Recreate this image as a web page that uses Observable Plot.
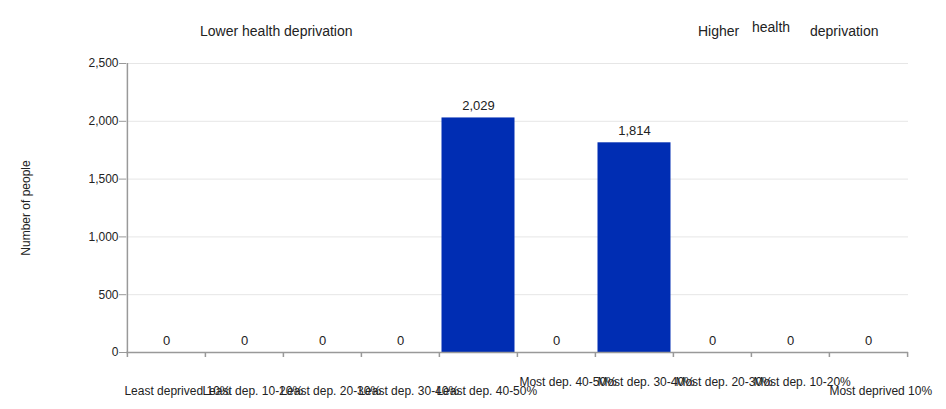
<!DOCTYPE html>
<html>
<head>
<meta charset="utf-8">
<script src="https://cdn.jsdelivr.net/npm/d3@7"></script>
<script src="https://cdn.jsdelivr.net/npm/@observablehq/plot@0.6"></script>
<style>
  html, body { margin: 0; padding: 0; background: #fff; }
  #wrap { position: relative; width: 946px; height: 409px; font-family: "Liberation Sans", Arial, sans-serif; color: #222; }
  .note { position: absolute; font-size: 14px; white-space: nowrap; line-height: 1; }
</style>
</head>
<body>
<div id="wrap">
  <span class="note" style="left:200px; top:24px;">Lower health deprivation</span>
  <span class="note" style="left:698px; top:24px;">Higher</span>
  <span class="note" style="left:752px; top:20px;">health</span>
  <span class="note" style="left:810px; top:24px;">deprivation</span>
</div>
<script>
const categories = ["Least deprived 10%", "Least dep. 10-20%", "Least dep. 20-30%", "Least dep. 30-40%", "Least dep. 40-50%", "Most dep. 40-50%", "Most dep. 30-40%", "Most dep. 20-30%", "Most dep. 10-20%", "Most deprived 10%"];
const values = [0, 0, 0, 0, 2029, 0, 1814, 0, 0, 0];
const yTicks = [0, 500, 1000, 1500, 2000, 2500];
const upperRow = ["Most dep. 40-50%", "Most dep. 30-40%", "Most dep. 20-30%", "Most dep. 10-20%"];
const lastRow = ["Most deprived 10%"];
const lowerRow = categories.filter(c => !upperRow.includes(c) && !lastRow.includes(c));

const data = categories.map((c, i) => ({category: c, value: values[i]}));
const W = 946, H = 409, mL = 126, mR = 38, mT = 63, mB = 57;
const step = (W - mL - mR) / categories.length;
const fmt = d3.format(",");

const chart = Plot.plot({
  width: W, height: H,
  marginLeft: mL, marginRight: mR, marginTop: mT, marginBottom: mB,
  style: {fontFamily: "'Liberation Sans', Arial, sans-serif", fontSize: "12px", color: "#222", background: "transparent"},
  x: {domain: categories, padding: 0, axis: null},
  y: {domain: [0, 2500], axis: null},
  marks: [
    Plot.gridY(yTicks.filter(t => t > 0), {stroke: "#e6e6e6", strokeOpacity: 1}),
    Plot.barY(data, {x: "category", y: "value", fill: "#002db3", insetLeft: 2.5, insetRight: 2.5}),
    Plot.ruleY([0], {stroke: "#999", strokeWidth: 1.5}),
    Plot.ruleX([categories[0]], {x: d => d, y1: 0, y2: 2500, dx: -step / 2, stroke: "#999", strokeWidth: 1.5}),
    Plot.axisY({ticks: yTicks, tickSize: 7, tickPadding: 1, tickFormat: fmt, stroke: "#999", fontSize: 12,
      label: "Number of people", labelAnchor: "center", labelOffset: 105, labelArrow: "none"}),
    Plot.axisX({ticks: categories, tickSize: 5, text: null, dx: -step / 2, stroke: "#999", strokeWidth: 1.5, label: null}),
    Plot.axisX({ticks: lastRow, tickSize: 5, text: null, dx: step / 2, stroke: "#999", strokeWidth: 1.5, label: null}),
    Plot.axisX({ticks: lowerRow, tickSize: 0, tickPadding: 34, textAnchor: "start", dx: -step / 2 - 3, fontSize: 12, label: null}),
    Plot.axisX({ticks: upperRow, tickSize: 0, tickPadding: 25, textAnchor: "start", dx: -step / 2 + 2, fontSize: 12, label: null}),
    Plot.axisX({ticks: lastRow, tickSize: 0, tickPadding: 34, textAnchor: "start", dx: -step / 2, fontSize: 12, label: null}),
    Plot.text(data, {x: "category", y: "value", text: d => fmt(d.value), dy: -8, lineAnchor: "bottom", fontSize: 13, fill: "#222"})
  ]
});
chart.style.position = "absolute";
chart.style.left = "0";
chart.style.top = "0";
document.getElementById("wrap").prepend(chart);
</script>
</body>
</html>
